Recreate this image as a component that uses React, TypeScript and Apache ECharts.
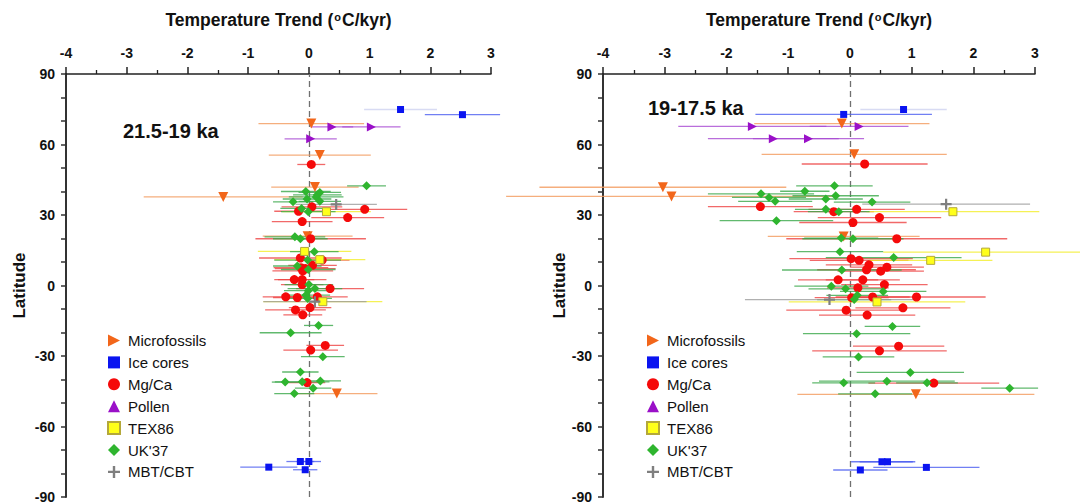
import { useEffect, useRef } from 'react';
import * as echarts from 'echarts';

// Temperature trend (°C/kyr) per record: [trend, latitude, ± range]

// 21.5-19 ka
const microfossilsA = [
  [0.04, 68.9, 0.87], [0.18, 55.5, 0.84], [0.10, 41.9, 0.72], [-1.41, 37.7, 1.31],
  [-0.02, 21.0, 0.74], [0.46, -46.0, 0.67],
];
const iceCoresA = [
  [2.53, 72.7, 0.62], [-0.14, -74.9, 0.23], [0.0, -74.9, 0.2],
  [-0.66, -77.3, 0.47], [-0.06, -78.4, 0.2],
];
// ice-core record with a weakly constrained range
const iceCoresWeakA = [[1.51, 74.9, 0.6]];
const mgCaA = [
  [0.04, 51.5, 0.23], [0.05, 33.5, 0.5], [-0.17, 31.6, 0.4], [0.92, 32.4, 0.7],
  [0.64, 28.9, 0.6], [-0.11, 27.2, 0.5], [0.03, 19.9, 0.91], [-0.14, 11.7, 0.68],
  [0.22, 10.8, 0.45], [0.06, 8.6, 0.4], [-0.13, 7.6, 0.45], [-0.06, 7.2, 0.5],
  [-0.10, 6.2, 0.5], [-0.24, 2.5, 0.33], [-0.11, 2.5, 0.4], [-0.11, 0.4, 0.35],
  [0.35, -1.3, 0.56], [-0.38, -4.8, 0.38], [-0.19, -5.1, 0.4], [0.14, -4.8, 0.5],
  [-0.22, -10.4, 0.5], [0.02, -9.4, 0.35], [-0.10, -12.5, 0.32], [0.27, -25.5, 0.31],
  [0.03, -27.5, 0.45], [-0.03, -41.3, 0.3],
];
const pollenA = [[0.38, 67.5, 0.35], [1.03, 67.5, 0.48], [0.03, 62.4, 0.43]];
const tex86A = [[0.29, 31.4, 0.73], [-0.07, 14.5, 0.77], [0.18, 11.0, 0.75], [0.23, -6.9, 0.98]];
const uk37A = [
  [0.95, 42.4, 0.32], [-0.05, 40.0, 0.41], [0.18, 39.6, 0.35], [0.14, 38.6, 0.4],
  [0.12, 37.7, 0.45], [-0.26, 35.6, 0.33], [-0.03, 36.8, 0.4], [0.18, 35.8, 0.35],
  [-0.12, 32.8, 0.35], [-0.01, 31.4, 0.45], [-0.23, 20.7, 0.5], [-0.14, 19.9, 0.45],
  [0.09, 14.4, 0.4], [-0.02, 10.8, 0.55], [-0.19, 8.3, 0.4], [-0.01, 6.8, 0.45],
  [0.0, 0.4, 0.4], [0.10, -1.3, 0.45], [-0.01, -2.2, 0.4], [-0.05, -4.1, 0.4],
  [-0.02, -5.5, 0.4], [0.16, -17.0, 0.24], [-0.30, -20.1, 0.51], [0.23, -30.3, 0.36],
  [-0.14, -36.8, 0.3], [-0.39, -41.1, 0.22], [-0.11, -41.0, 0.45], [0.19, -40.6, 0.34],
  [0.07, -43.7, 0.3], [-0.24, -46.0, 0.33],
];
const mbtCbtA = [[0.45, 34.5, 0.67], [0.10, -6.9, 0.85]];

// 19-17.5 ka
const microfossilsB = [
  [-0.13, 68.9, 1.42], [0.07, 55.8, 1.5], [-3.03, 41.8, 2.0], [-2.89, 37.9, 2.68],
  [-0.10, 20.9, 1.23], [1.07, -46.3, 1.92],
];
const iceCoresB = [
  [-0.10, 72.8, 1.43], [0.52, -75.0, 0.5], [0.61, -75.0, 0.45],
  [1.24, -77.4, 0.86], [0.17, -78.5, 0.44],
];
const iceCoresWeakB = [[0.87, 74.9, 0.7]];
const mgCaB = [
  [0.24, 51.7, 1.02], [-1.45, 33.6, 0.85], [-0.26, 31.4, 0.65], [0.11, 32.4, 0.78],
  [0.48, 28.9, 1.0], [0.05, 26.8, 0.87], [0.76, 19.9, 1.79], [0.02, 11.4, 1.0],
  [0.15, 10.7, 0.8], [0.31, 8.8, 0.7], [0.27, 6.7, 0.8], [0.60, 7.8, 0.6],
  [0.50, 6.1, 0.7], [-0.19, 2.4, 0.65], [0.21, 2.4, 0.6], [0.56, 0.4, 0.7],
  [0.13, -1.0, 0.5], [0.03, -5.2, 0.6], [0.37, -4.9, 0.6], [1.08, -4.9, 1.12],
  [-0.06, -10.5, 0.97], [0.86, -9.5, 0.77], [0.28, -12.6, 0.78], [0.79, -25.8, 0.74],
  [0.48, -27.8, 1.09], [1.36, -41.5, 1.06],
];
const pollenB = [[-1.58, 67.7, 1.2], [0.15, 67.7, 0.8], [-1.24, 62.5, 1.06], [-0.67, 62.5, 0.9]];
const tex86B = [[1.67, 31.4, 1.4], [2.20, 14.2, 1.66], [1.31, 10.7, 1.0], [0.44, -7.0, 1.43]];
const uk37B = [
  [-0.25, 42.4, 0.62], [-0.73, 40.1, 0.4], [-1.44, 39.0, 0.86], [-1.31, 37.5, 0.6],
  [-1.21, 35.8, 0.6], [-0.39, 36.8, 0.6], [-0.23, 38.2, 0.7], [0.36, 35.5, 0.62],
  [-0.39, 32.4, 0.5], [-0.18, 31.4, 0.5], [-1.19, 27.6, 0.92], [-0.14, 20.2, 0.6],
  [0.05, 19.9, 0.82], [-0.16, 14.4, 0.7], [0.71, 11.9, 1.1], [-0.13, 6.6, 0.97],
  [-0.30, -0.3, 0.6], [-0.07, -1.4, 0.6], [0.54, -2.5, 0.7], [0.12, -4.2, 0.5],
  [0.07, -6.0, 0.6], [0.69, -17.4, 0.45], [0.11, -20.5, 0.87], [0.14, -30.4, 0.58],
  [0.98, -37.0, 0.87], [-0.10, -41.4, 0.51], [0.60, -40.7, 1.1], [1.25, -41.4, 0.5],
  [2.59, -43.7, 0.46], [0.41, -46.1, 0.6],
];
const mbtCbtB = [[1.56, 34.6, 1.36], [-0.33, -6.0, 1.37]];

const panelLabels = ['21.5-19 ka', '19-17.5 ka'];
const proxyNames = ['Microfossils', 'Ice cores', 'Mg/Ca', 'Pollen', 'TEX86', "UK'37", 'MBT/CBT'];
const panelSets = [
  [microfossilsA, iceCoresA, mgCaA, pollenA, tex86A, uk37A, mbtCbtA],
  [microfossilsB, iceCoresB, mgCaB, pollenB, tex86B, uk37B, mbtCbtB],
];
const panelWeakIce = [iceCoresWeakA, iceCoresWeakB];

const FONT = 'Arial, "Liberation Sans", Helvetica, sans-serif';
const PLUS = 'path://M4,0H6V4H10V6H6V10H4V6H0V4H4Z';

const proxyStyles: any[] = [
  { color: '#f2661a', bar: '#f39a5c', symbol: 'triangle', rotate: 180, size: 10, icon: 'path://M0,0L12,6L0,12Z' },
  { color: '#0a14f0', bar: '#4d5ff0', symbol: 'rect', rotate: 0, size: 7, icon: 'rect' },
  { color: '#f50a0a', bar: '#ee4444', symbol: 'circle', rotate: 0, size: 9, icon: 'circle' },
  { color: '#9a10c8', bar: '#a84ad2', symbol: 'triangle', rotate: -90, size: 9, icon: 'triangle' },
  { color: '#ffff1a', bar: '#f2ee2a', symbol: 'rect', rotate: 0, size: 8, icon: 'rect', border: '#b4a83a' },
  { color: '#2fb52f', bar: '#3aa84a', symbol: 'diamond', rotate: 0, size: 9, icon: 'diamond' },
  { color: '#7f7f7f', bar: '#9c9c9c', symbol: PLUS, rotate: 0, size: 11, icon: PLUS },
];

const grids = [
  { left: 66, top: 74, width: 425, height: 426 },
  { left: 603, top: 74, width: 432, height: 426 },
];

function rangeSeries(name: string, pi: number, pts: number[][], stroke: string, opacity: number) {
  return {
    type: 'custom',
    name,
    xAxisIndex: pi,
    yAxisIndex: pi,
    silent: true,
    clip: false,
    z: 2,
    encode: { x: 0, y: 1 },
    data: pts,
    renderItem: (_params: any, api: any) => {
      const x = api.value(0);
      const y = api.value(1);
      const e = api.value(2);
      const a = api.coord([x - e, y]);
      const b = api.coord([x + e, y]);
      return {
        type: 'line',
        shape: { x1: a[0], y1: a[1], x2: b[0], y2: b[1] },
        style: { stroke, lineWidth: 1.3, opacity },
      };
    },
  };
}

function buildOption() {
  const series: any[] = [];
  panelSets.forEach((sets, pi) => {
    // horizontal range bars drawn beneath the markers
    series.push(rangeSeries('Ice cores weak range', pi, panelWeakIce[pi], '#c8ccee', 0.7));
    sets.forEach((pts, k) => {
      series.push(rangeSeries(proxyNames[k] + ' range', pi, pts, proxyStyles[k].bar, 0.8));
    });
    sets.forEach((pts, k) => {
      const st = proxyStyles[k];
      const pointSets = k === 1 ? pts.concat(panelWeakIce[pi]) : pts;
      const s: any = {
        type: 'scatter',
        name: proxyNames[k],
        xAxisIndex: pi,
        yAxisIndex: pi,
        z: 3,
        data: pointSets.map((d) => [d[0], d[1]]),
        symbol: st.symbol,
        symbolSize: st.size,
        symbolRotate: st.rotate,
        itemStyle: {
          color: st.color,
          opacity: 1,
          borderColor: st.border || st.color,
          borderWidth: st.border ? 1 : 0,
        },
      };
      if (k === 0) {
        s.markLine = {
          silent: true,
          symbol: 'none',
          z: 1,
          label: { show: false },
          lineStyle: { type: [6, 4], color: '#707070', width: 1.3 },
          data: [{ xAxis: 0 }],
        };
      }
      series.push(s);
    });
  });

  const xAxis = grids.map((_, i) => ({
    gridIndex: i,
    type: 'value',
    position: 'top',
    min: -4,
    max: 3,
    interval: 1,
    name: 'Temperature Trend ({s|o}C/kyr)',
    nameLocation: 'middle',
    nameGap: 45,
    nameTextStyle: {
      fontFamily: FONT,
      fontSize: 17.5,
      fontWeight: 'bold',
      color: '#111',
      rich: {
        s: { fontFamily: FONT, fontSize: 11, fontWeight: 'bold', color: '#111', verticalAlign: 'top', padding: [0, 1, 6, 1] },
      },
    },
    axisLine: { show: true, onZero: false, lineStyle: { color: '#222', width: 1.5 } },
    axisTick: { show: true, length: 7, lineStyle: { color: '#222', width: 1.5 } },
    minorTick: { show: true, splitNumber: 2, length: 4, lineStyle: { color: '#222', width: 1.3 } },
    axisLabel: { fontFamily: FONT, fontSize: 14, fontWeight: 'bold', color: '#111', margin: 14 },
    splitLine: { show: false },
    minorSplitLine: { show: false },
  }));

  const yAxis = grids.map((_, i) => ({
    gridIndex: i,
    type: 'value',
    min: -90,
    max: 90,
    interval: 10,
    name: 'Latitude',
    nameLocation: 'middle',
    nameRotate: 90,
    nameGap: i === 0 ? 38 : 33,
    nameTextStyle: { fontFamily: FONT, fontSize: 17, fontWeight: 'bold', color: '#111' },
    axisLine: { show: true, onZero: false, lineStyle: { color: '#333', width: 2 } },
    axisTick: { show: true, length: 5, lineStyle: { color: '#333', width: 1.5 } },
    axisLabel: {
      fontFamily: FONT,
      fontSize: 14,
      fontWeight: 'bold',
      color: '#111',
      margin: 11,
      formatter: (v: number) => (v % 30 === 0 ? String(v) : ''),
    },
    splitLine: { show: false },
  }));

  const legendData = proxyNames.map((n, k) => ({ name: n, icon: proxyStyles[k].icon }));
  const legend = [107, 646].map((left) => ({
    orient: 'vertical',
    left,
    top: 333,
    height: 170,
    padding: 0,
    itemWidth: 12,
    itemHeight: 12,
    itemGap: 6.9,
    selectedMode: false,
    data: legendData,
    textStyle: { fontFamily: FONT, fontSize: 15, color: '#111', padding: [0, 0, 0, 3] },
  }));

  const graphic = [
    { type: 'text', x: 123, y: 131, style: { text: panelLabels[0], fontFamily: FONT, fontSize: 20, fontWeight: 'bold', fill: '#111', verticalAlign: 'middle' } },
    { type: 'text', x: 648, y: 108, style: { text: panelLabels[1], fontFamily: FONT, fontSize: 20, fontWeight: 'bold', fill: '#111', verticalAlign: 'middle' } },
  ];

  return {
    animation: false,
    backgroundColor: '#ffffff',
    textStyle: { fontFamily: FONT },
    grid: grids,
    xAxis,
    yAxis,
    legend,
    graphic,
    series,
  };
}

export default function App() {
  const ref = useRef<HTMLDivElement>(null);
  useEffect(() => {
    const chart = echarts.init(ref.current!, null, { renderer: 'svg' });
    chart.setOption(buildOption() as any);
    return () => chart.dispose();
  }, []);
  return (
    <div
      ref={ref}
      style={{ position: 'fixed', left: 0, top: 0, width: 1080, height: 504, background: '#fff' }}
    />
  );
}
